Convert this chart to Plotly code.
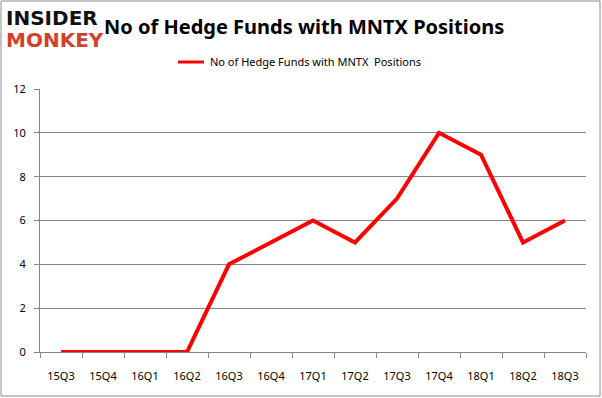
import plotly.graph_objects as go

quarters = ["15Q3", "15Q4", "16Q1", "16Q2", "16Q3", "16Q4", "17Q1", "17Q2", "17Q3", "17Q4", "18Q1", "18Q2", "18Q3"]
funds = [0, 0, 0, 0, 4, 5, 6, 5, 7, 10, 9, 5, 6]
y_ticks = [0, 2, 4, 6, 8, 10, 12]
series_name = "No of Hedge Funds with MNTX  Positions"
title_text = "No of Hedge Funds with MNTX Positions"

fig = go.Figure()
fig.add_trace(go.Scatter(
    x=list(range(len(quarters))), y=funds, mode="lines", name=series_name,
    line=dict(color="#ff0000", width=4), showlegend=False,
))

grid = "#868686"
W, L, T, H = 546, 40, 89, 263
def px(x):
    return (x - L) / W
def py(y):
    return 1 + (T - y) / H

fig.update_layout(
    width=602, height=398,
    margin=dict(l=40, r=16, t=89, b=46),
    paper_bgcolor="white", plot_bgcolor="white",
    font=dict(family="Noto Sans, DejaVu Sans, sans-serif", color="#000000"),
    xaxis=dict(
        range=[-0.5, len(quarters) - 0.5], automargin=False,
        tickmode="array", tickvals=list(range(len(quarters))), ticktext=quarters,
        showgrid=False, showline=True, linecolor=grid, linewidth=1,
        ticks="", tickfont=dict(size=11, family="Noto Sans"),
        zeroline=False,
        minor=dict(tickmode="array", tickvals=[i - 0.5 for i in range(len(quarters) + 1)],
                   ticks="outside", ticklen=5, tickcolor=grid, showgrid=False),
        ticklabelstandoff=14,
    ),
    yaxis=dict(
        range=[0, 12], tickvals=y_ticks, showgrid=True, gridcolor=grid, gridwidth=1,
        automargin=False,
        showline=True, linecolor=grid, linewidth=1, ticks="outside", ticklen=5,
        tickcolor=grid, tickfont=dict(size=11, family="Noto Sans"), zeroline=False,
        ticklabelstandoff=6,
    ),
    shapes=[dict(type="rect", xref="paper", yref="paper", x0=px(1), x1=px(600),
                 y0=py(396), y1=py(1), line=dict(color="#8c8c8c", width=1))],
    annotations=[
        dict(text="<b>" + title_text + "</b>", xref="paper", yref="paper",
             x=px(304), y=py(27), xanchor="center", yanchor="middle",
             showarrow=False, font=dict(size=20, family="Noto Sans", color="#000000")),
        dict(text="<b>INSIDER</b>", xref="paper", yref="paper", x=px(4), y=py(18),
             xanchor="left", yanchor="middle", showarrow=False,
             font=dict(size=20, family="DejaVu Sans", color="#111111")),
        dict(text="<b>MONKEY</b>", xref="paper", yref="paper", x=px(4), y=py(40),
             xanchor="left", yanchor="middle", showarrow=False,
             font=dict(size=20, family="DejaVu Sans", color="#d23f2b")),
        dict(text=series_name, xref="paper", yref="paper", x=px(208), y=py(62),
             xanchor="left", yanchor="middle", showarrow=False,
             font=dict(size=11, family="Noto Sans", color="#000000")),
    ],
)
fig.add_shape(type="line", xref="paper", yref="paper", x0=px(178), x1=px(204),
              y0=py(62), y1=py(62), line=dict(color="#ff0000", width=3))

fig.write_html("out.html", config={"displayModeBar": False},
               post_script="document.body.style.margin='0';document.body.style.padding='0';")
